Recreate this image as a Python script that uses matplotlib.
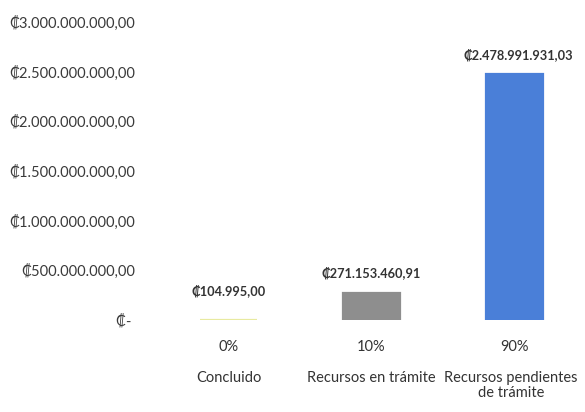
import matplotlib
matplotlib.use("Agg")
import matplotlib.pyplot as plt
from matplotlib.ticker import FuncFormatter

plt.rcParams['font.family'] = ['Lato', 'DejaVu Sans']

categorias = ["Concluido", "Recursos en trámite", "Recursos pendientes\nde trámite"]
montos = [104995.00, 271153460.91, 2478991931.03]
etiquetas = ["₡104.995,00", "₡271.153.460,91", "₡2.478.991.931,03"]
porcentajes = ["0%", "10%", "90%"]
colores = ["#e8eaa0", "#8e8e8e", "#4a7fd8"]
ticks_y = [0, 5e8, 1e9, 1.5e9, 2e9, 2.5e9, 3e9]

def fmt_colon(v, pos):
    if v == 0:
        return "₡- "
    s = f"{v:,.2f}".replace(",", "X").replace(".", ",").replace("X", ".")
    return "₡" + s

fig = plt.figure(figsize=(5.85, 4.12), dpi=100)
ax = fig.add_axes([150/585, 92/412, 435/585, 298/412])
x = range(len(categorias))
ax.bar(x, montos, width=0.40, color=colores, edgecolor=colores, linewidth=1.6)
ax.set_xlim(-0.554, 2.498)
ax.set_ylim(0, 3e9)
ax.set_yticks(ticks_y)
ax.yaxis.set_major_formatter(FuncFormatter(fmt_colon))
ax.tick_params(axis="y", length=0, labelsize=10.5, labelcolor="#3a3a3a", pad=11)
ax.set_xticks([])
for s in ax.spines.values():
    s.set_visible(False)

desfases = [21, 15, 14]
for i, (m, t) in enumerate(zip(montos, etiquetas)):
    ax.annotate(t, (i, m), xytext=(3 if i == 2 else 0, desfases[i]), textcoords="offset points",
                ha="center", va="center", fontsize=9.2, fontweight="bold", color="#333333")
for i, p in enumerate(porcentajes):
    ax.annotate(p, (i, 0), xytext=(0, -19.5), textcoords="offset points",
                ha="center", va="center", fontsize=10.5, color="#333333")
for i, c in enumerate(categorias):
    ax.annotate(c, (i, 0), xytext=(-2 if i == 2 else 0, -37), textcoords="offset points",
                ha="center", va="top", fontsize=10.5, color="#333333", linespacing=1.05)

fig.savefig("out.png", dpi=100)
